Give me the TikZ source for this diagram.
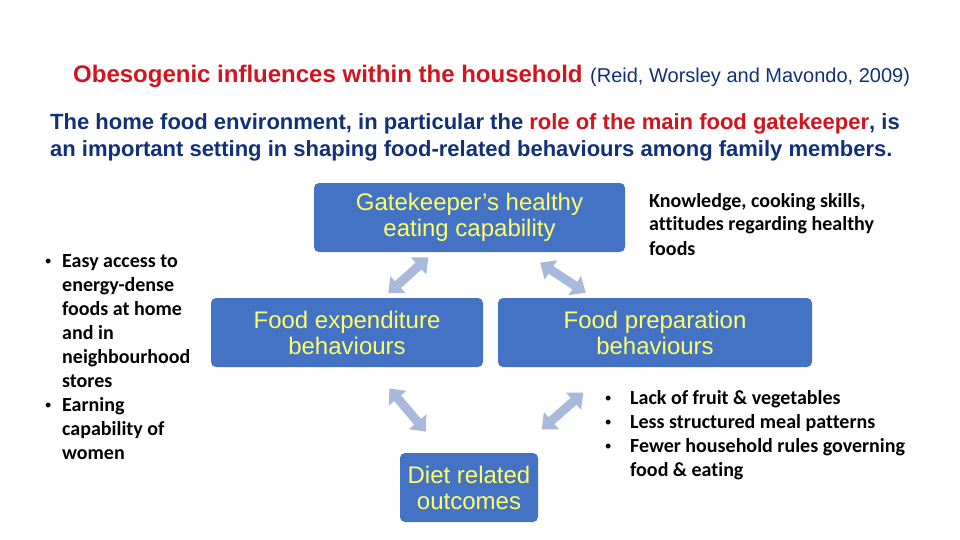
\documentclass[tikz,border=0pt]{standalone}
\usepackage{fontspec}
\setmainfont{Liberation Sans}
\newfontfamily\calib[Ligatures=NoCommon]{Carlito}
\usetikzlibrary{arrows.meta}
\definecolor{titlered}{HTML}{D2141E}
\definecolor{navy}{HTML}{12307A}
\definecolor{boxblue}{HTML}{4472C4}
\definecolor{boxtext}{HTML}{FFFF66}
\definecolor{arrowcol}{HTML}{A8B9DC}
\newcommand{\bdot}{{\rmfamily\mdseries\fontsize{18}{24}\selectfont\textbullet}}
\begin{document}
\begin{tikzpicture}[x=1pt,y=-1pt,
  box/.style={fill=boxblue, rounded corners=5pt, text=boxtext, align=center,
    font=\fontsize{24}{26}\selectfont, inner sep=0pt},
  twoway/.style={draw=arrowcol, fill=arrowcol, line width=9pt,
    {Triangle[length=13pt,width=22pt]}-{Triangle[length=13pt,width=22pt]}},
  plain/.style={inner sep=0pt, anchor=base west},
  bul/.style={plain, font=\calib\bfseries\fontsize{20}{24}\selectfont, text=black}
]
\fill[white] (0,0) rectangle (960,540);
\useasboundingbox (0,0) rectangle (960,540);

% title
\node[plain, font=\fontsize{24}{28}\selectfont\bfseries, text=titlered] (title) at (73,83)
  {Obesogenic influences within the household};
\node[plain, font=\fontsize{20}{24}\selectfont, text=navy] (cite) at (590,83)
  {(Reid, Worsley and Mavondo, 2009)};

% subtitle
\node[plain, font=\fontsize{22}{27}\selectfont\bfseries, text=navy] (sub1) at (50,130)
  {The home food environment, in particular the \textcolor{titlered}{role of the main food gatekeeper}, is};
\node[plain, font=\fontsize{22}{27}\selectfont\bfseries, text=navy] (sub2) at (50,157)
  {an important setting in shaping food-related behaviours among family members.};

% boxes
\node[box, minimum width=311pt, minimum height=69pt] (gk) at (469.5,217.5)
  {Gatekeeper’s healthy\\eating capability};
\node[box, minimum width=272pt, minimum height=69pt] (fe) at (347,332.5)
  {Food expenditure\\behaviours};
\node[box, minimum width=314pt, minimum height=69pt] (fp) at (655,332.5)
  {Food preparation\\behaviours};
\node[box, minimum width=138pt, minimum height=69pt] (dr) at (469,487.5)
  {Diet related\\outcomes};

% arrows
\coordinate (a1s) at (388.3,293.3);
\coordinate (a1e) at (428.3,257.3);
\coordinate (a2s) at (540,262.7);
\coordinate (a2e) at (585.7,292.7);
\coordinate (a3s) at (389.3,388.3);
\coordinate (a3e) at (426,431.7);
\coordinate (a4s) at (541.7,429.3);
\coordinate (a4e) at (583.3,392.7);
\draw[twoway] (a1s) -- (a1e);
\draw[twoway] (a2s) -- (a2e);
\draw[twoway] (a3s) -- (a3e);
\draw[twoway] (a4s) -- (a4e);

% side texts
\node[bul] (left) at (45,267)
  {\begin{tabular}[t]{@{}p{17pt}@{}l@{}}
   \bdot & Easy access to\\
   & energy-dense\\
   & foods at home\\
   & and in\\
   & neighbourhood\\
   & stores\\
   \bdot & Earning\\
   & capability of\\
   & women
   \end{tabular}};
\node[bul] (know) at (649,207)
  {\begin{tabular}[t]{@{}l@{}}
   Knowledge, cooking skills,\\
   attitudes regarding healthy\\
   foods
   \end{tabular}};
\node[bul] (right) at (605,404)
  {\begin{tabular}[t]{@{}p{25pt}@{}l@{}}
   \bdot & Lack of fruit \& vegetables\\
   \bdot & Less structured meal patterns\\
   \bdot & Fewer household rules governing\\
   & food \& eating
   \end{tabular}};
\end{tikzpicture}
\end{document}
